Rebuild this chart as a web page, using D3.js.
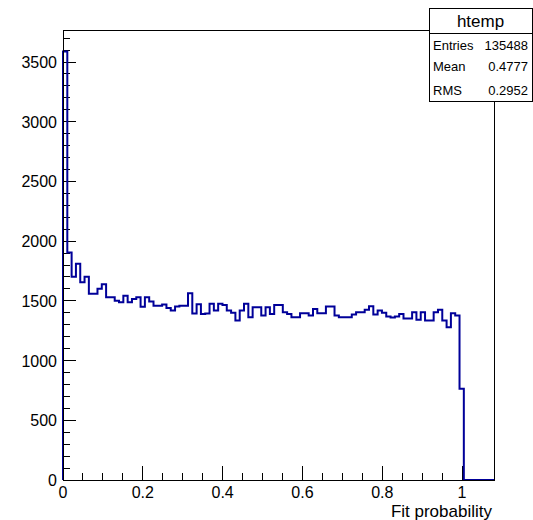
<!DOCTYPE html>
<html>
<head>
<meta charset="utf-8">
<script src="https://cdn.jsdelivr.net/npm/d3@7"></script>
<style>
  html, body { margin: 0; padding: 0; background: #fff; }
  svg { display: block; font-family: "Liberation Sans", Arial, sans-serif; }
</style>
</head>
<body>
<svg id="chart" width="533" height="520"></svg>
<script>
// ---- data ----
const histName = "htemp";
const xTitle = "Fit probability";
const xMin = 0, xMax = 1.08, nBins = 100;
const counts = [
  3589, 1906, 1703, 1812, 1655, 1703, 1560, 1560, 1602, 1640,
  1530, 1530, 1502, 1488, 1542, 1488, 1515, 1530, 1450, 1530,
  1495, 1460, 1460, 1470, 1440, 1420, 1452, 1460, 1460, 1563,
  1395, 1472, 1391, 1395, 1475, 1420, 1475, 1466, 1419, 1400,
  1336, 1419, 1475, 1363, 1447, 1447, 1377, 1447, 1390, 1466,
  1466, 1405, 1391, 1363, 1363, 1397, 1397, 1377, 1433, 1397,
  1397, 1452, 1452, 1377, 1363, 1363, 1363, 1386, 1405, 1405,
  1425, 1455, 1385, 1420, 1400, 1370, 1360, 1370, 1390, 1352,
  1352, 1405, 1341, 1405, 1336, 1336, 1405, 1425, 1336, 1280,
  1397, 1377, 765, 0, 0, 0, 0, 0, 0, 0
];
const xTickValues = [0, 0.2, 0.4, 0.6, 0.8, 1];
const xTickLabels = ["0", "0.2", "0.4", "0.6", "0.8", "1"];
const yTickValues = [0, 500, 1000, 1500, 2000, 2500, 3000, 3500];
const statLabels = ["Entries", "Mean", "RMS"];
const statValues = ["135488", "0.4777", "0.2952"];

// ---- layout ----
const L = 63, R = 494, T = 30, B = 480;
const lineColor = "#000099";
const svg = d3.select("#chart");

const x = d3.scaleLinear().domain([xMin, xMax]).range([L, R]);
const yMax = d3.max(counts) * 1.05;
const y = d3.scaleLinear().domain([0, yMax]).range([B, T]);

const binW = (xMax - xMin) / nBins;

// histogram step path
const pts = [[xMin, 0]];
counts.forEach((c, i) => {
  pts.push([xMin + i * binW, c]);
  pts.push([xMin + (i + 1) * binW, c]);
});
pts.push([xMax, 0]);
const line = d3.line().x(d => x(d[0])).y(d => y(d[1]));

// minor ticks
const xMinor = d3.range(0, 21).map(i => i * 0.05).filter(v => v <= xMax + 1e-9);
const yMinor = d3.range(0, 38).map(i => i * 100).filter(v => v <= yMax);

const g = svg.append("g");
g.selectAll(".xmin").data(xMinor).enter().append("line")
  .attr("x1", d => x(d)).attr("x2", d => x(d))
  .attr("y1", B).attr("y2", B - 7)
  .attr("stroke", "#000").attr("stroke-width", 1).attr("shape-rendering", "crispEdges");
g.selectAll(".xmaj").data(xTickValues).enter().append("line")
  .attr("x1", d => x(d)).attr("x2", d => x(d))
  .attr("y1", B).attr("y2", B - 14)
  .attr("stroke", "#000").attr("stroke-width", 1).attr("shape-rendering", "crispEdges");
g.selectAll(".ymin").data(yMinor).enter().append("line")
  .attr("x1", L).attr("x2", L + 6.5)
  .attr("y1", d => y(d)).attr("y2", d => y(d))
  .attr("stroke", "#000").attr("stroke-width", 1).attr("shape-rendering", "crispEdges");
g.selectAll(".ymaj").data(yTickValues).enter().append("line")
  .attr("x1", L).attr("x2", L + 13)
  .attr("y1", d => y(d)).attr("y2", d => y(d))
  .attr("stroke", "#000").attr("stroke-width", 1).attr("shape-rendering", "crispEdges");

// histogram
svg.append("path").attr("d", line(pts))
  .attr("fill", "none").attr("stroke", lineColor).attr("stroke-width", 2)
  .attr("stroke-linejoin", "miter");

// frame
svg.append("rect").attr("x", L).attr("y", T).attr("width", R - L).attr("height", B - T)
  .attr("fill", "none").attr("stroke", "#000").attr("stroke-width", 1)
  .attr("shape-rendering", "crispEdges");

// tick labels
svg.selectAll(".xl").data(xTickValues).enter().append("text")
  .attr("x", d => x(d)).attr("y", 498)
  .attr("text-anchor", "middle").attr("font-size", 16).attr("fill", "#000")
  .text((d, i) => xTickLabels[i]);
svg.selectAll(".yl").data(yTickValues).enter().append("text")
  .attr("x", 57).attr("y", d => y(d) + 6)
  .attr("text-anchor", "end").attr("font-size", 16).attr("fill", "#000")
  .text(d => d);

// axis title
svg.append("text").attr("x", R - 2).attr("y", 517)
  .attr("text-anchor", "end").attr("font-size", 17).attr("fill", "#000")
  .text(xTitle);

// stats box
const sx = 429, sy = 8, sw = 103, sh = 93;
svg.append("rect").attr("x", sx).attr("y", sy).attr("width", sw).attr("height", sh)
  .attr("fill", "#fff").attr("stroke", "#000").attr("stroke-width", 1)
  .attr("shape-rendering", "crispEdges");
svg.append("line").attr("x1", sx).attr("x2", sx + sw).attr("y1", 33).attr("y2", 33)
  .attr("stroke", "#000").attr("stroke-width", 1).attr("shape-rendering", "crispEdges");
svg.append("text").attr("x", sx + sw / 2).attr("y", 27)
  .attr("text-anchor", "middle").attr("font-size", 17).attr("fill", "#000")
  .text(histName);
const rowY = [50, 71, 95];
statLabels.forEach((lab, i) => {
  svg.append("text").attr("x", 433).attr("y", rowY[i])
    .attr("font-size", 13).attr("fill", "#000").text(lab);
  svg.append("text").attr("x", 528).attr("y", rowY[i])
    .attr("text-anchor", "end").attr("font-size", 13).attr("fill", "#000").text(statValues[i]);
});
</script>
</body>
</html>
